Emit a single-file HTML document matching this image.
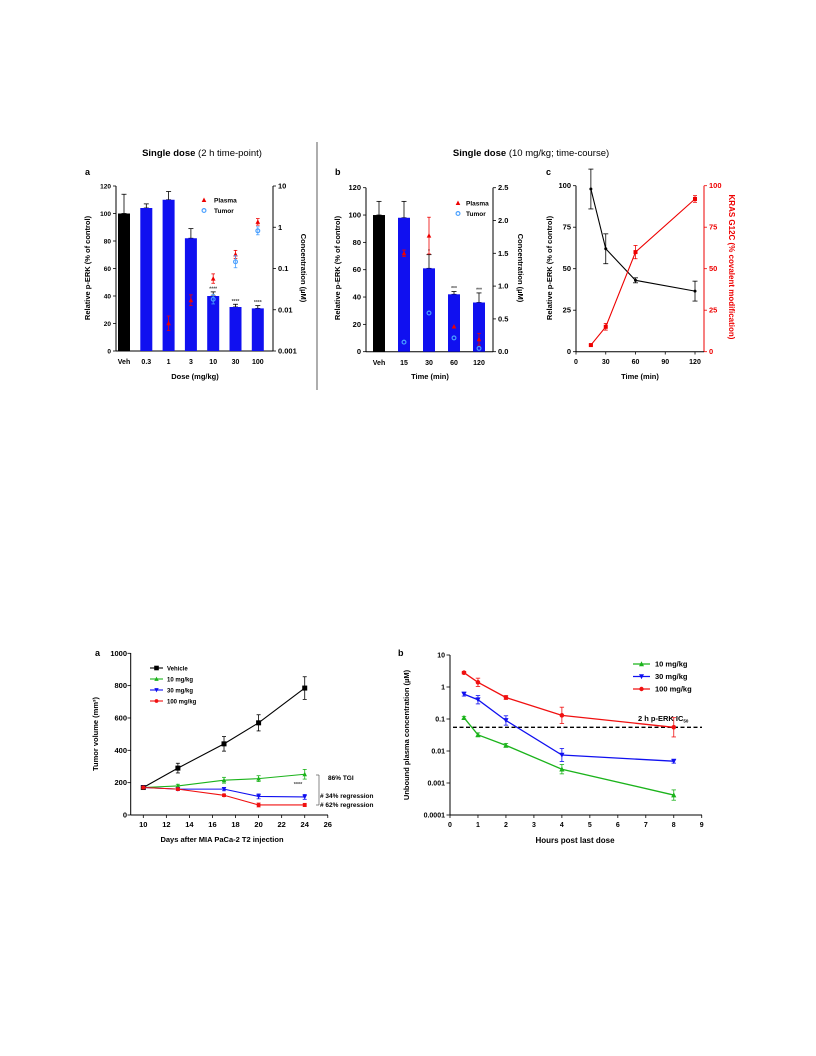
<!DOCTYPE html>
<html><head><meta charset="utf-8"><style>
html,body{margin:0;padding:0;background:#fff;}
svg{display:block;font-family:"Liberation Sans",Arial,sans-serif;}
text{font-weight:bold;}
</style></head><body>
<svg id="fig" width="816" height="1056" viewBox="0 0 816 1056" xmlns="http://www.w3.org/2000/svg">
<rect width="816" height="1056" fill="#fff"/>
</svg>
<script>
// ---------- data ----------
const aCats=['Veh','0.3','1','3','10','30','100'];
const aPerk=[100,104,110,82,40,32,31];
const aPerkErr=[14,3,6,7,3,2,2];
const aPlasma=[null,null,0.0047,0.017,0.057,0.22,1.35];
const aPlasmaErrF=[1,1,1.5,1.35,1.3,1.25,1.2];
const aTumor=[null,null,null,null,0.018,0.146,0.82];
const aTumorErrF=[1,1,1,1,1.3,1.4,1.25];
const aStars=['','','','','****','****','****'];
const aLeftTicks=[0,20,40,60,80,100,120];
const aRightTicks=[0.001,0.01,0.1,1,10];
const aRightLabels=['0.001','0.01','0.1','1','10'];

const bCats=['Veh','15','30','60','120'];
const bPerk=[100,98,61,42,36];
const bPerkErr=[10,12,10,2,7];
const bPlasma=[null,1.5,1.77,0.385,0.19];
const bPlasmaErr=[0,0.05,0.28,0,0.09];
const bTumor=[null,0.146,0.59,0.21,0.05];
const bStars=['','','*','***','***'];
const bLeftTicks=[0,20,40,60,80,100,120];
const bRightTicks=[0,0.5,1.0,1.5,2.0,2.5];
const bRightLabels=['0.0','0.5','1.0','1.5','2.0','2.5'];

const cTimes=[15,30,60,120];
const cPerk=[98,62,43,36.5];
const cPerkErr=[12,9,1.5,6];
const cKras=[4,15,60,92];
const cKrasErr=[0.5,2,4,2];
const cXTicks=[0,30,60,90,120];
const cYTicks=[0,25,50,75,100];

const dDays=[10,13,17,20,24];
const dVehicle=[170,290,440,570,785];
const dVehicleErr=[10,30,45,50,70];
const d10=[170,180,215,225,252];
const d10Err=[8,10,18,18,30];
const d30=[170,160,160,115,112];
const d30Err=[8,8,10,15,15];
const d100=[170,160,122,62,62];
const d100Err=[8,8,8,12,10];
const dXTicks=[10,12,14,16,18,20,22,24,26];
const dYTicks=[0,200,400,600,800,1000];

const eHours=[0.5,1,2,4,8];
const e10=[0.11,0.032,0.015,0.0027,0.00042];
const e10ErrF=[1.1,1.15,1.15,1.4,1.45];
const e30=[0.6,0.4,0.09,0.0075,0.0048];
const e30ErrF=[1.15,1.35,1.4,1.6,1.15];
const e100=[2.8,1.4,0.47,0.13,0.055];
const e100ErrF=[1.1,1.35,1.15,1.8,2.0];
const eIC50=0.055;
const eXTicks=[0,1,2,3,4,5,6,7,8,9];
const eYTicks=[0.0001,0.001,0.01,0.1,1,10];
const eYLabels=['0.0001','0.001','0.01','0.1','1','10'];

// ---------- helpers ----------
const NS='http://www.w3.org/2000/svg';
const S=document.getElementById('fig');
function el(tag,attrs,name){
  const e=document.createElementNS(NS,tag);
  for(const k in attrs) e.setAttribute(k,attrs[k]);
  
  
  S.appendChild(e);
  return e;
}
function line(x1,y1,x2,y2,stroke,w,name,dash){
  const a={x1:x1,y1:y1,x2:x2,y2:y2,stroke:stroke,'stroke-width':w};
  if(dash) a['stroke-dasharray']=dash;
  return el('line',a,name);
}
function txt(x,y,s,size,name,anchor,fill,rot,weight){
  const a={x:x,y:y,'font-size':size,'text-anchor':anchor||'middle',fill:fill||'#000'};
  if(rot) a.transform='rotate('+rot+' '+x+' '+y+')';
  if(weight) a['font-weight']=weight;
  const t=el('text',a,name); t.textContent=s; return t;
}
function errbar(x,y1,y2,color,name,cap){
  cap=cap||2.5;
  line(x,y1,x,y2,color,0.8,name);
  line(x-cap,y1,x+cap,y1,color,0.8,name+'-cap-top');
  line(x-cap,y2,x+cap,y2,color,0.8,name+'-cap-bottom');
}
function marker(type,x,y,color,name,r){
  r=r||2.4;
  if(type==='sq') return el('rect',{x:x-r,y:y-r,width:2*r,height:2*r,fill:color},name);
  if(type==='up') return el('polygon',{points:(x)+','+(y-r-0.5)+' '+(x-r-0.3)+','+(y+r)+' '+(x+r+0.3)+','+(y+r),fill:color},name);
  if(type==='down') return el('polygon',{points:(x)+','+(y+r+0.5)+' '+(x-r-0.3)+','+(y-r)+' '+(x+r+0.3)+','+(y-r),fill:color},name);
  if(type==='circ') return el('circle',{cx:x,cy:y,r:r,fill:'none',stroke:color,'stroke-width':1.2},name);
  if(type==='dot') return el('circle',{cx:x,cy:y,r:r,fill:color},name);
}
const L10=Math.log10;

// ---------- headers ----------
(function(){const t=txt(202,156,'Single dose ',9.5,'header-left');const s=document.createElementNS(NS,'tspan');s.setAttribute('font-weight','normal');s.textContent='(2 h time-point)';t.appendChild(s);})();
(function(){const t=txt(531,156,'Single dose ',9.5,'header-right');const s=document.createElementNS(NS,'tspan');s.setAttribute('font-weight','normal');s.textContent='(10 mg/kg; time-course)';t.appendChild(s);})();
line(317,142,317,390,'#333',0.8,'panel-divider');

// ---------- panel a (top) ----------
txt(85,175,'a',9,'panel-label-a','start');
const ya=v=>351-v/120*165;
const yaR=v=>351-(L10(v)+3)*41.25;
const xa=i=>124+i*22.3;
line(116,186,116,351,'#000',1,'a-left-axis');
line(273,186,273,351,'#000',1,'a-right-axis');
line(116,351,273,351,'#000',1,'a-x-axis');
aLeftTicks.forEach(v=>{line(113,ya(v),116,ya(v),'#000',0.8,'a-left-tick');txt(111,ya(v)+2.3,String(v),6.5,'a-left-tick-label','end');});
aRightTicks.forEach((v,i)=>{line(273,yaR(v),276,yaR(v),'#000',0.8,'a-right-tick');txt(278,yaR(v)+2.6,aRightLabels[i],7.5,'a-right-tick-label','start');});
aCats.forEach((c,i)=>{
  const x=xa(i);
  errbar(x,ya(aPerk[i]),ya(aPerk[i]+aPerkErr[i]),'#000','a-bar-error');
  el('rect',{x:x-6,y:ya(aPerk[i]),width:12,height:351-ya(aPerk[i]),fill:i===0?'#000':'#1010f0'},'a-bar-'+c);
  txt(x,364,c,7,'a-x-tick-label');
  if(aStars[i]) txt(x,ya(aPerk[i]+aPerkErr[i])-1.5,aStars[i],5,'a-significance','middle','#444');
  if(aPlasma[i]!==null){
    errbar(x,yaR(aPlasma[i]*aPlasmaErrF[i]),yaR(aPlasma[i]/aPlasmaErrF[i]),'#e00','a-plasma-error',1.8);
    marker('up',x,yaR(aPlasma[i]),'#e00','a-plasma-point',2);
  }
  if(aTumor[i]!==null){
    errbar(x,yaR(aTumor[i]*aTumorErrF[i]),yaR(aTumor[i]/aTumorErrF[i]),'#4aa0ff','a-tumor-error',1.8);
    marker('circ',x,yaR(aTumor[i]),'#4aa0ff','a-tumor-point',1.9);
  }
});
txt(195,379,'Dose  (mg/kg)',7.5,'a-x-axis-title');
txt(90,268,'Relative p-ERK  (% of control)',7.5,'a-y-axis-title','middle','#000',-90);
txt(301,268,'Concentration (µM)',7.5,'a-right-axis-title','middle','#000',90);
marker('up',204,200,'#e00','a-legend-plasma-marker',2);
txt(214,202.5,'Plasma',6.5,'a-legend-plasma','start');
marker('circ',204,210.5,'#4aa0ff','a-legend-tumor-marker',1.9);
txt(214,213,'Tumor',6.5,'a-legend-tumor','start');

// ---------- panel b (top) ----------
txt(335,175,'b',9,'panel-label-b','start');
const yb=v=>351.7-v/120*164;
const ybR=v=>351.7-v/2.5*164;
const xb=i=>379+i*25;
line(366,187.7,366,351.7,'#000',1,'b-left-axis');
line(493,187.7,493,351.7,'#000',1,'b-right-axis');
line(366,351.7,493,351.7,'#000',1,'b-x-axis');
bLeftTicks.forEach(v=>{line(363,yb(v),366,yb(v),'#000',0.8,'b-left-tick');txt(361,yb(v)+2.5,String(v),7.5,'b-left-tick-label','end');});
bRightTicks.forEach((v,i)=>{line(493,ybR(v),496,ybR(v),'#000',0.8,'b-right-tick');txt(498,ybR(v)+2.5,bRightLabels[i],7.5,'b-right-tick-label','start');});
bCats.forEach((c,i)=>{
  const x=xb(i);
  errbar(x,yb(bPerk[i]),yb(bPerk[i]+bPerkErr[i]),'#000','b-bar-error');
  el('rect',{x:x-6,y:yb(bPerk[i]),width:12,height:351.7-yb(bPerk[i]),fill:i===0?'#000':'#1010f0'},'b-bar-'+c);
  txt(x,365,c,7,'b-x-tick-label');
  if(bStars[i]) txt(x,yb(bPerk[i]+bPerkErr[i])-1.5,bStars[i],5,'b-significance','middle','#444');
  if(bPlasma[i]!==null){
    if(bPlasmaErr[i]>0) errbar(x,ybR(bPlasma[i]+bPlasmaErr[i]),ybR(bPlasma[i]-bPlasmaErr[i]),'#e00','b-plasma-error',1.8);
    marker('up',x,ybR(bPlasma[i]),'#e00','b-plasma-point',2);
  }
  if(bTumor[i]!==null){
    marker('circ',x,ybR(bTumor[i]),'#4aa0ff','b-tumor-point',1.9);
  }
});
txt(430,379,'Time (min)',7.5,'b-x-axis-title');
txt(340,268,'Relative p-ERK  (% of control)',7.5,'b-y-axis-title','middle','#000',-90);
txt(518,268,'Concentration (µM)',7.5,'b-right-axis-title','middle','#000',90);
marker('up',458,203,'#e00','b-legend-plasma-marker',2);
txt(466,205.5,'Plasma',6.5,'b-legend-plasma','start');
marker('circ',458,213.5,'#4aa0ff','b-legend-tumor-marker',1.9);
txt(466,216,'Tumor',6.5,'b-legend-tumor','start');

// ---------- panel c (top) ----------
txt(546,175,'c',9,'panel-label-c','start');
const xc=t=>576+t*0.9917;
const yc=v=>351.7-v*1.66;
line(576,185.7,576,351.7,'#000',1,'c-left-axis');
line(704,185.7,704,351.7,'#e00',1,'c-right-axis');
line(576,351.7,704,351.7,'#000',1,'c-x-axis');
cXTicks.forEach(t=>{line(xc(t),351.7,xc(t),354.5,'#000',0.8,'c-x-tick');txt(xc(t),364,String(t),7,'c-x-tick-label');});
cYTicks.forEach(v=>{
  line(573,yc(v),576,yc(v),'#000',0.8,'c-left-tick');txt(571,yc(v)+2.5,String(v),7.5,'c-left-tick-label','end');
  line(704,yc(v),707,yc(v),'#e00',0.8,'c-right-tick');txt(709,yc(v)+2.5,String(v),7.5,'c-right-tick-label','start','#e00');
});
el('polyline',{points:cTimes.map((t,i)=>xc(t)+','+yc(cPerk[i])).join(' '),fill:'none',stroke:'#000','stroke-width':1.1},'c-perk-line');
el('polyline',{points:cTimes.map((t,i)=>xc(t)+','+yc(cKras[i])).join(' '),fill:'none',stroke:'#e00','stroke-width':1.1},'c-kras-line');
cTimes.forEach((t,i)=>{
  errbar(xc(t),yc(cPerk[i]+cPerkErr[i]),yc(cPerk[i]-cPerkErr[i]),'#000','c-perk-error',2.5);
  marker('dot',xc(t),yc(cPerk[i]),'#000','c-perk-point',1.5);
  errbar(xc(t),yc(cKras[i]+cKrasErr[i]),yc(cKras[i]-cKrasErr[i]),'#e00','c-kras-error',2);
  marker('sq',xc(t),yc(cKras[i]),'#e00','c-kras-point',2);
});
txt(640,379,'Time (min)',7.5,'c-x-axis-title');
txt(552,268,'Relative p-ERK (% of control)',7.5,'c-y-axis-title','middle','#000',-90);
txt(729,267,'KRAS G12C (% covalent modification)',8,'c-right-axis-title','middle','#e00',90);

// ---------- bottom panel a ----------
txt(95,656,'a',9,'panel-label-bottom-a','start');
const xd=d=>143.3+(d-10)*11.53;
const yd=v=>815-v*0.1617;
line(130.7,653,130.7,815,'#000',1,'d-y-axis');
line(130.7,815,328,815,'#000',1,'d-x-axis');
dYTicks.forEach(v=>{line(127.5,yd(v),130.7,yd(v),'#000',0.8,'d-y-tick');txt(127,yd(v)+2.5,String(v),7.5,'d-y-tick-label','end');});
dXTicks.forEach(d=>{line(xd(d),815,xd(d),818,'#000',0.8,'d-x-tick');txt(xd(d),827,String(d),7.5,'d-x-tick-label','middle','#000',0,'normal');});
const dSeries=[[dVehicle,dVehicleErr,'#000','sq','vehicle'],[d10,d10Err,'#1bb31b','up','10-mgkg'],[d30,d30Err,'#1010f0','down','30-mgkg'],[d100,d100Err,'#f01010','dot','100-mgkg']];
dSeries.forEach(s=>{
  el('polyline',{points:dDays.map((d,i)=>xd(d)+','+yd(s[0][i])).join(' '),fill:'none',stroke:s[2],'stroke-width':1.1},'d-line-'+s[4]);
  dDays.forEach((d,i)=>{
    errbar(xd(d),yd(s[0][i]+s[1][i]),yd(s[0][i]-s[1][i]),s[2],'d-error-'+s[4],2);
    marker(s[3],xd(d),yd(s[0][i]),s[2],'d-point-'+s[4],s[3]==='sq'?2.5:2);
  });
});
const dLegendNames=['Vehicle','10 mg/kg','30 mg/kg','100 mg/kg'];
dSeries.forEach((s,i)=>{
  const y=668+i*11;
  line(150,y,163,y,s[2],1.1,'d-legend-line');
  marker(s[3],156.5,y,s[2],'d-legend-marker',s[3]==='sq'?2.3:1.9);
  txt(167,y+2.3,dLegendNames[i],6,'d-legend-label','start');
});
line(316,775,319,775,'#555',0.7,'d-bracket-top');
line(319,775,319,805,'#555',0.7,'d-bracket');
line(316,805,319,805,'#555',0.7,'d-bracket-bottom');
txt(328,780,'86% TGI',6.5,'d-annotation-tgi','start');
txt(298,786,'****',5.5,'d-annotation-stars','middle','#444');
txt(320,798,'#  34% regression',6.5,'d-annotation-34','start');
txt(320,807,'#  62% regression',6.5,'d-annotation-62','start');
txt(222,842,'Days after MIA PaCa-2 T2 injection',7.5,'d-x-axis-title');
txt(98,734,'Tumor volume (mm³)',7.5,'d-y-axis-title','middle','#000',-90);

// ---------- bottom panel b ----------
txt(398,656,'b',9,'panel-label-bottom-b','start');
const xe=h=>450+h*27.97;
const ye=v=>815-(L10(v)+4)*32;
line(450,655,450,815,'#000',1,'e-y-axis');
line(450,815,702,815,'#000',1,'e-x-axis');
eYTicks.forEach((v,i)=>{line(446.5,ye(v),450,ye(v),'#000',0.8,'e-y-tick');txt(445,ye(v)+2.5,eYLabels[i],7,'e-y-tick-label','end');});
eXTicks.forEach(h=>{line(xe(h),815,xe(h),818,'#000',0.8,'e-x-tick');txt(xe(h),827,String(h),7,'e-x-tick-label','middle','#000',0,'normal');});
line(453,ye(eIC50),702,ye(eIC50),'#000',1.3,'e-ic50-line','4,2.5');
(function(){const t=txt(638,721,'2 h p-ERK IC',7.5,'e-ic50-label','start');const s=document.createElementNS(NS,'tspan');s.setAttribute('font-size','4.5');s.setAttribute('dy','1.5');s.textContent='50';t.appendChild(s);})();
const eSeries=[[e10,e10ErrF,'#1bb31b','up','10-mgkg'],[e30,e30ErrF,'#1010f0','down','30-mgkg'],[e100,e100ErrF,'#f01010','dot','100-mgkg']];
eSeries.forEach(s=>{
  el('polyline',{points:eHours.map((h,i)=>xe(h)+','+ye(s[0][i])).join(' '),fill:'none',stroke:s[2],'stroke-width':1.3},'e-line-'+s[4]);
  eHours.forEach((h,i)=>{
    errbar(xe(h),ye(s[0][i]*s[1][i]),ye(s[0][i]/s[1][i]),s[2],'e-error-'+s[4],2.2);
    marker(s[3],xe(h),ye(s[0][i]),s[2],'e-point-'+s[4],2.3);
  });
});
const eLegendNames=['10 mg/kg','30 mg/kg','100 mg/kg'];
eSeries.forEach((s,i)=>{
  const y=664+i*12.5;
  line(633,y,650,y,s[2],1.3,'e-legend-line');
  marker(s[3],641.5,y,s[2],'e-legend-marker',2.2);
  txt(655,y+2.5,eLegendNames[i],7.5,'e-legend-label','start');
});
txt(575,843,'Hours post last dose',8,'e-x-axis-title');
txt(409,735,'Unbound plasma concentration (µM)',7.5,'e-y-axis-title','middle','#000',-90);
</script>
</body></html>
